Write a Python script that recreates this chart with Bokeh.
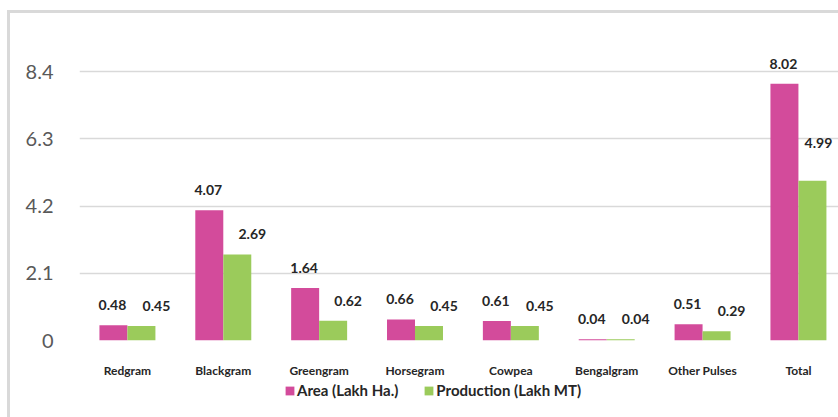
from bokeh.plotting import figure
from bokeh.layouts import column
from bokeh.models import ColumnDataSource, Range1d, FixedTicker, Legend, LegendItem
from bokeh.transform import dodge
from bokeh.core.properties import value
from bokeh.embed import file_html
from bokeh.resources import INLINE

categories = ["Redgram", "Blackgram", "Greengram", "Horsegram", "Cowpea", "Bengalgram", "Other Pulses", "Total"]
area = [0.48, 4.07, 1.64, 0.66, 0.61, 0.04, 0.51, 8.02]
production = [0.45, 2.69, 0.62, 0.45, 0.45, 0.04, 0.29, 4.99]
y_ticks = [0, 2.1, 4.2, 6.3, 8.4]
series_names = ["Area (Lakh Ha.)", "Production (Lakh MT)"]
colors = ["#D34B9B", "#9BCB5B"]

xs = list(range(len(categories)))
last = len(xs) - 1
src = ColumnDataSource(dict(
    x=xs, area=area, prod=production,
    area_lbl=[f"{v:.2f}" for v in area],
    prod_lbl=[f"{v:.2f}" for v in production],
    # label placement (screen px): the last green label is lifted away from the right edge
    prod_dx=[15 if i < last else 6 for i in xs],
    prod_dy=[-20 if i < last else -38 for i in xs],
))

W = 828
p = figure(width=W, height=367, output_backend="svg", toolbar_location=None,
           x_range=Range1d(-0.5, 7.418), y_range=Range1d(0, 10),
           min_border_left=69, min_border_right=0, min_border_top=7, min_border_bottom=39)
p.outline_line_color = None
p.background_fill_color = "white"
p.border_fill_color = "white"

bw = 0.292
r1 = p.vbar(x=dodge("x", -bw / 2, range=p.x_range), top="area", width=bw, source=src,
            fill_color=colors[0], line_color=None)
r2 = p.vbar(x=dodge("x", bw / 2, range=p.x_range), top="prod", width=bw, source=src,
            fill_color=colors[1], line_color=None)

label_style = dict(text_align="center", text_baseline="middle",
                   text_font=value("Lato"), text_font_style="bold", text_font_size="14px",
                   text_color="#262626")
p.text(x=dodge("x", -bw / 2, range=p.x_range), y="area", text="area_lbl", source=src,
       y_offset=-20, x_offset=-1, **label_style)
p.text(x=dodge("x", bw / 2, range=p.x_range), y="prod", text="prod_lbl", source=src,
       y_offset="prod_dy", x_offset="prod_dx", **label_style)

# axes
p.yaxis.ticker = FixedTicker(ticks=y_ticks)
p.yaxis.major_label_overrides = {0: "0"}
p.yaxis.axis_line_color = None
p.yaxis.major_tick_line_color = None
p.yaxis.minor_tick_line_color = None
p.yaxis.major_tick_out = 0
p.yaxis.major_label_standoff = 26
p.yaxis.major_label_text_font = "Lato"
p.yaxis.major_label_text_font_size = "20px"
p.yaxis.major_label_text_color = "#595959"

p.xaxis.ticker = FixedTicker(ticks=xs)
p.xaxis.major_label_overrides = {i: c for i, c in zip(xs, categories)}
p.xaxis.axis_line_color = None
p.xaxis.major_tick_line_color = None
p.xaxis.minor_tick_line_color = None
p.xaxis.major_tick_out = 0
p.xaxis.major_label_standoff = 22
p.xaxis.major_label_text_font = "Lato"
p.xaxis.major_label_text_font_style = "bold"
p.xaxis.major_label_text_font_size = "12px"
p.xaxis.major_label_text_color = "#262626"

p.xgrid.grid_line_color = None
p.ygrid.ticker = FixedTicker(ticks=y_ticks)
p.ygrid.grid_line_color = "#d9d9d9"
p.ygrid.grid_line_width = 1.5

# legend strip below the chart (its swatch renderers sit outside the visible range)
pl = figure(width=W, height=29, output_backend="svg", toolbar_location=None,
            x_range=Range1d(100, 101), y_range=Range1d(100, 101),
            min_border_left=0, min_border_right=0, min_border_top=0, min_border_bottom=0)
pl.axis.visible = False
pl.grid.visible = False
pl.outline_line_color = None
pl.border_fill_color = "white"
l1 = pl.vbar(x="x", top="area", width=bw, source=src, fill_color=colors[0], line_color=None)
l2 = pl.vbar(x="x", top="prod", width=bw, source=src, fill_color=colors[1], line_color=None)

legend = Legend(items=[LegendItem(label=series_names[0], renderers=[l1]),
                       LegendItem(label=series_names[1], renderers=[l2])],
                orientation="horizontal", location=(205, 10),
                glyph_width=11, glyph_height=11, label_standoff=2, spacing=25,
                padding=0, margin=0, border_line_color=None, background_fill_alpha=0,
                label_text_font="Lato", label_text_font_style="bold",
                label_text_font_size="15px", label_text_color="#262626")
pl.add_layout(legend, "center")

layout = column(p, pl, spacing=0)
layout.styles = {"border-left": "3px solid #d9d9d9", "border-top": "3px solid #d9d9d9",
                 "margin-top": "10px", "margin-left": "7px", "padding-bottom": "8px"}

open("out.html", "w").write(file_html(layout, INLINE))
